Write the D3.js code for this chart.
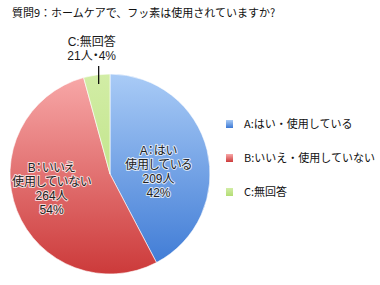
<!DOCTYPE html>
<html>
<head>
<meta charset="utf-8">
<script src="https://cdn.jsdelivr.net/npm/d3@7"></script>
<style>
  body { margin: 0; background: #fff; }
  text { font-family: "Noto Sans CJK JP", "Noto Sans", sans-serif; }
  .slice-label { font-family: "Liberation Sans", "Noto Sans CJK JP", sans-serif; font-feature-settings: "palt"; }
</style>
</head>
<body>
<div id="chart"></div>
<script>
var categories = ["A:はい・使用している", "B:いいえ・使用していない", "C:無回答"];
var sliceLabels = [["A：はい", "使用している", "209人", "42%"],
                   ["B：いいえ", "使用していない", "264人", "54%"],
                   ["C:無回答", "21人・4%"]];
var counts = [209, 264, 21];
var topColors = ["#a9cbf6", "#f8a9a9", "#d2eda6"];
var bottomColors = ["#3b78d4", "#cc3a3a", "#b3dd74"];

var width = 380, height = 285;
var cx = 110, cy = 174, r = 100;

var svg = d3.select("#chart").append("svg")
    .attr("width", width).attr("height", height);

var defs = svg.append("defs");
categories.forEach(function(c, i) {
  var g = defs.append("linearGradient")
      .attr("id", "grad" + i)
      .attr("gradientUnits", "userSpaceOnUse")
      .attr("x1", 0).attr("y1", -r).attr("x2", 0).attr("y2", r);
  g.append("stop").attr("offset", "0%").attr("stop-color", topColors[i]);
  g.append("stop").attr("offset", "100%").attr("stop-color", bottomColors[i]);
  var lg = defs.append("linearGradient")
      .attr("id", "lg" + i)
      .attr("x1", 0).attr("y1", 0).attr("x2", 0).attr("y2", 1);
  lg.append("stop").attr("offset", "0%").attr("stop-color", topColors[i]);
  lg.append("stop").attr("offset", "100%").attr("stop-color", bottomColors[i]);
});

svg.append("text")
    .attr("x", 12).attr("y", 17)
    .attr("font-size", "11px").attr("fill", "#111")
    .text("質問9：ホームケアで、フッ素は使用されていますか?");

var pie = d3.pie().sort(null).value(function(d) { return d; });
var arcs = pie(counts);
var arc = d3.arc().innerRadius(0).outerRadius(r);

var g = svg.append("g").attr("transform", "translate(" + cx + "," + cy + ")");

g.selectAll("path")
  .data(arcs)
  .enter().append("path")
    .attr("d", arc)
    .attr("fill", function(d, i) { return "url(#grad" + i + ")"; })
    .attr("stroke", "#fff")
    .attr("stroke-width", 0.6);

// labels inside A and B (nudged like excel places them)
var labelArc = d3.arc().innerRadius(r * 0.52).outerRadius(r * 0.52);
var nudge = [[-2, 10], [-10, -4]];
var lineH = 14;
arcs.slice(0, 2).forEach(function(d, i) {
  var c = labelArc.centroid(d);
  var lx = c[0] + nudge[i][0], ly = c[1] + nudge[i][1];
  var lines = sliceLabels[i];
  lines.forEach(function(l, j) {
    g.append("text")
      .attr("class", "slice-label")
      .attr("text-anchor", "middle")
      .attr("font-size", "12px")
      .attr("fill", "#222")
      .attr("stroke", "#fff")
      .attr("stroke-opacity", 0.75)
      .attr("stroke-width", 2)
      .attr("stroke-linejoin", "round")
      .attr("paint-order", "stroke")
      .attr("x", lx)
      .attr("y", ly + (j - (lines.length - 1) / 2) * lineH + 4)
      .text(l);
  });
});

// C label outside with leader line
var dc = arcs[2];
var mid = (dc.startAngle + dc.endAngle) / 2;
var px = Math.sin(mid) * r + 2;
g.append("line")
    .attr("x1", px).attr("x2", px)
    .attr("y1", -r + 10).attr("y2", -r - 8)
    .attr("stroke", "#000").attr("stroke-width", 1.2);
sliceLabels[2].forEach(function(l, j) {
  g.append("text")
    .attr("class", "slice-label")
    .attr("text-anchor", "middle")
    .attr("font-size", "12px")
    .attr("fill", "#1a1a1a")
    .attr("x", px - 7).attr("y", -r - 28 + j * 14)
    .text(l);
});

// legend
var legend = svg.append("g").attr("transform", "translate(226,120)");
var rows = legend.selectAll("g")
  .data(categories)
  .enter().append("g")
    .attr("transform", function(d, i) { return "translate(0," + (i * 34) + ")"; });
rows.append("rect")
    .attr("width", 7).attr("height", 8)
    .attr("fill", function(d, i) { return "url(#lg" + i + ")"; });
rows.append("text")
    .attr("x", 18).attr("y", 8)
    .attr("font-size", "11px").attr("fill", "#111")
    .text(function(d) { return d; });
</script>
</body>
</html>
